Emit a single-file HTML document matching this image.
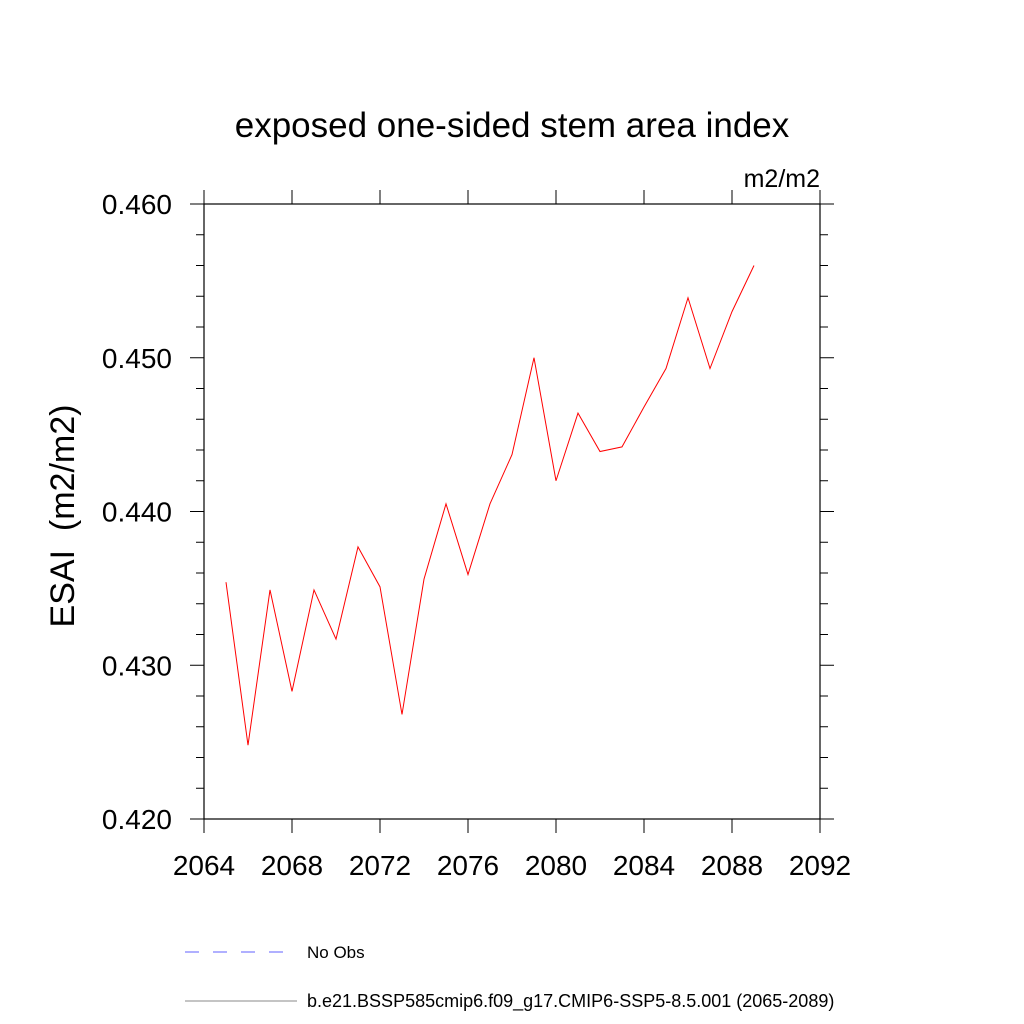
<!DOCTYPE html>
<html><head><meta charset="utf-8"><style>body{margin:0;background:#fff}svg{display:block}text{font-family:"Liberation Sans",sans-serif}</style></head>
<body>
<svg id="c" width="1024" height="1024">
<text x="512" y="137" text-anchor="middle" font-size="35">exposed one-sided stem area index</text>
<text x="820" y="187" text-anchor="end" font-size="25">m2/m2</text>
<text transform="translate(74,516) rotate(-90)" text-anchor="middle" font-size="34">ESAI&#160;&#160;(m2/m2)</text>
<g id="axes"></g>
<g id="series"></g>
<line x1="185" y1="952" x2="292" y2="952" stroke="#6060ff" stroke-width="1" stroke-dasharray="14,14"/>
<text x="307" y="958" font-size="17">No Obs</text>
<line x1="185" y1="1001" x2="297" y2="1001" stroke="#888" stroke-width="1"/>
<text x="307" y="1007" font-size="18">b.e21.BSSP585cmip6.f09_g17.CMIP6-SSP5-8.5.001 (2065-2089)</text>
</svg>
<script>
const years=[2065,2066,2067,2068,2069,2070,2071,2072,2073,2074,2075,2076,2077,2078,2079,2080,2081,2082,2083,2084,2085,2086,2087,2088,2089];
const esai=[0.4354,0.4248,0.4349,0.4283,0.4349,0.4317,0.4377,0.4351,0.4268,0.4356,0.4405,0.4359,0.4405,0.4437,0.4500,0.4420,0.4464,0.4439,0.4442,0.4468,0.4493,0.4539,0.4493,0.4530,0.4560];
const xTicks=[2064,2068,2072,2076,2080,2084,2088,2092];
const yTicks=[0.420,0.430,0.440,0.450,0.460];
const L=204,R=820,T=204,B=819;
const X=v=>L+(v-2064)/28*(R-L);
const Y=v=>B-(v-0.42)/0.04*(B-T);
const NS="http://www.w3.org/2000/svg";
const ax=document.getElementById('axes'),se=document.getElementById('series');
function mk(p,tag,a){const e=document.createElementNS(NS,tag);for(const k in a)e.setAttribute(k,a[k]);p.appendChild(e);return e;}
const fr=mk(ax,'rect',{x:L,y:T,width:R-L,height:B-T,fill:'none',stroke:'#000','stroke-width':1.2});


xTicks.forEach(t=>{const x=X(t);
const a=mk(ax,'line',{x1:x,y1:B,x2:x,y2:B+14,stroke:'#000'});


const b=mk(ax,'line',{x1:x,y1:T,x2:x,y2:T-14,stroke:'#000'});


const tx=mk(ax,'text',{x:x,y:B+56,'text-anchor':'middle','font-size':28});tx.textContent=t;

});
for(let i=0;i<=20;i++){const v=0.42+i*0.002,y=Y(v),len=(i%5==0)?14:8;
const a=mk(ax,'line',{x1:L,y1:y,x2:L-len,y2:y,stroke:'#000'});


const b=mk(ax,'line',{x1:R,y1:y,x2:R+len,y2:y,stroke:'#000'});

}
yTicks.forEach(v=>{const tx=mk(ax,'text',{x:L-32,y:Y(v)+10,'text-anchor':'end','font-size':28});tx.textContent=v.toFixed(3);

});
const ln=mk(se,'polyline',{points:years.map((y,i)=>X(y)+','+Y(esai[i])).join(' '),fill:'none',stroke:'#ff0000','stroke-width':1});


</script>
</body></html>
